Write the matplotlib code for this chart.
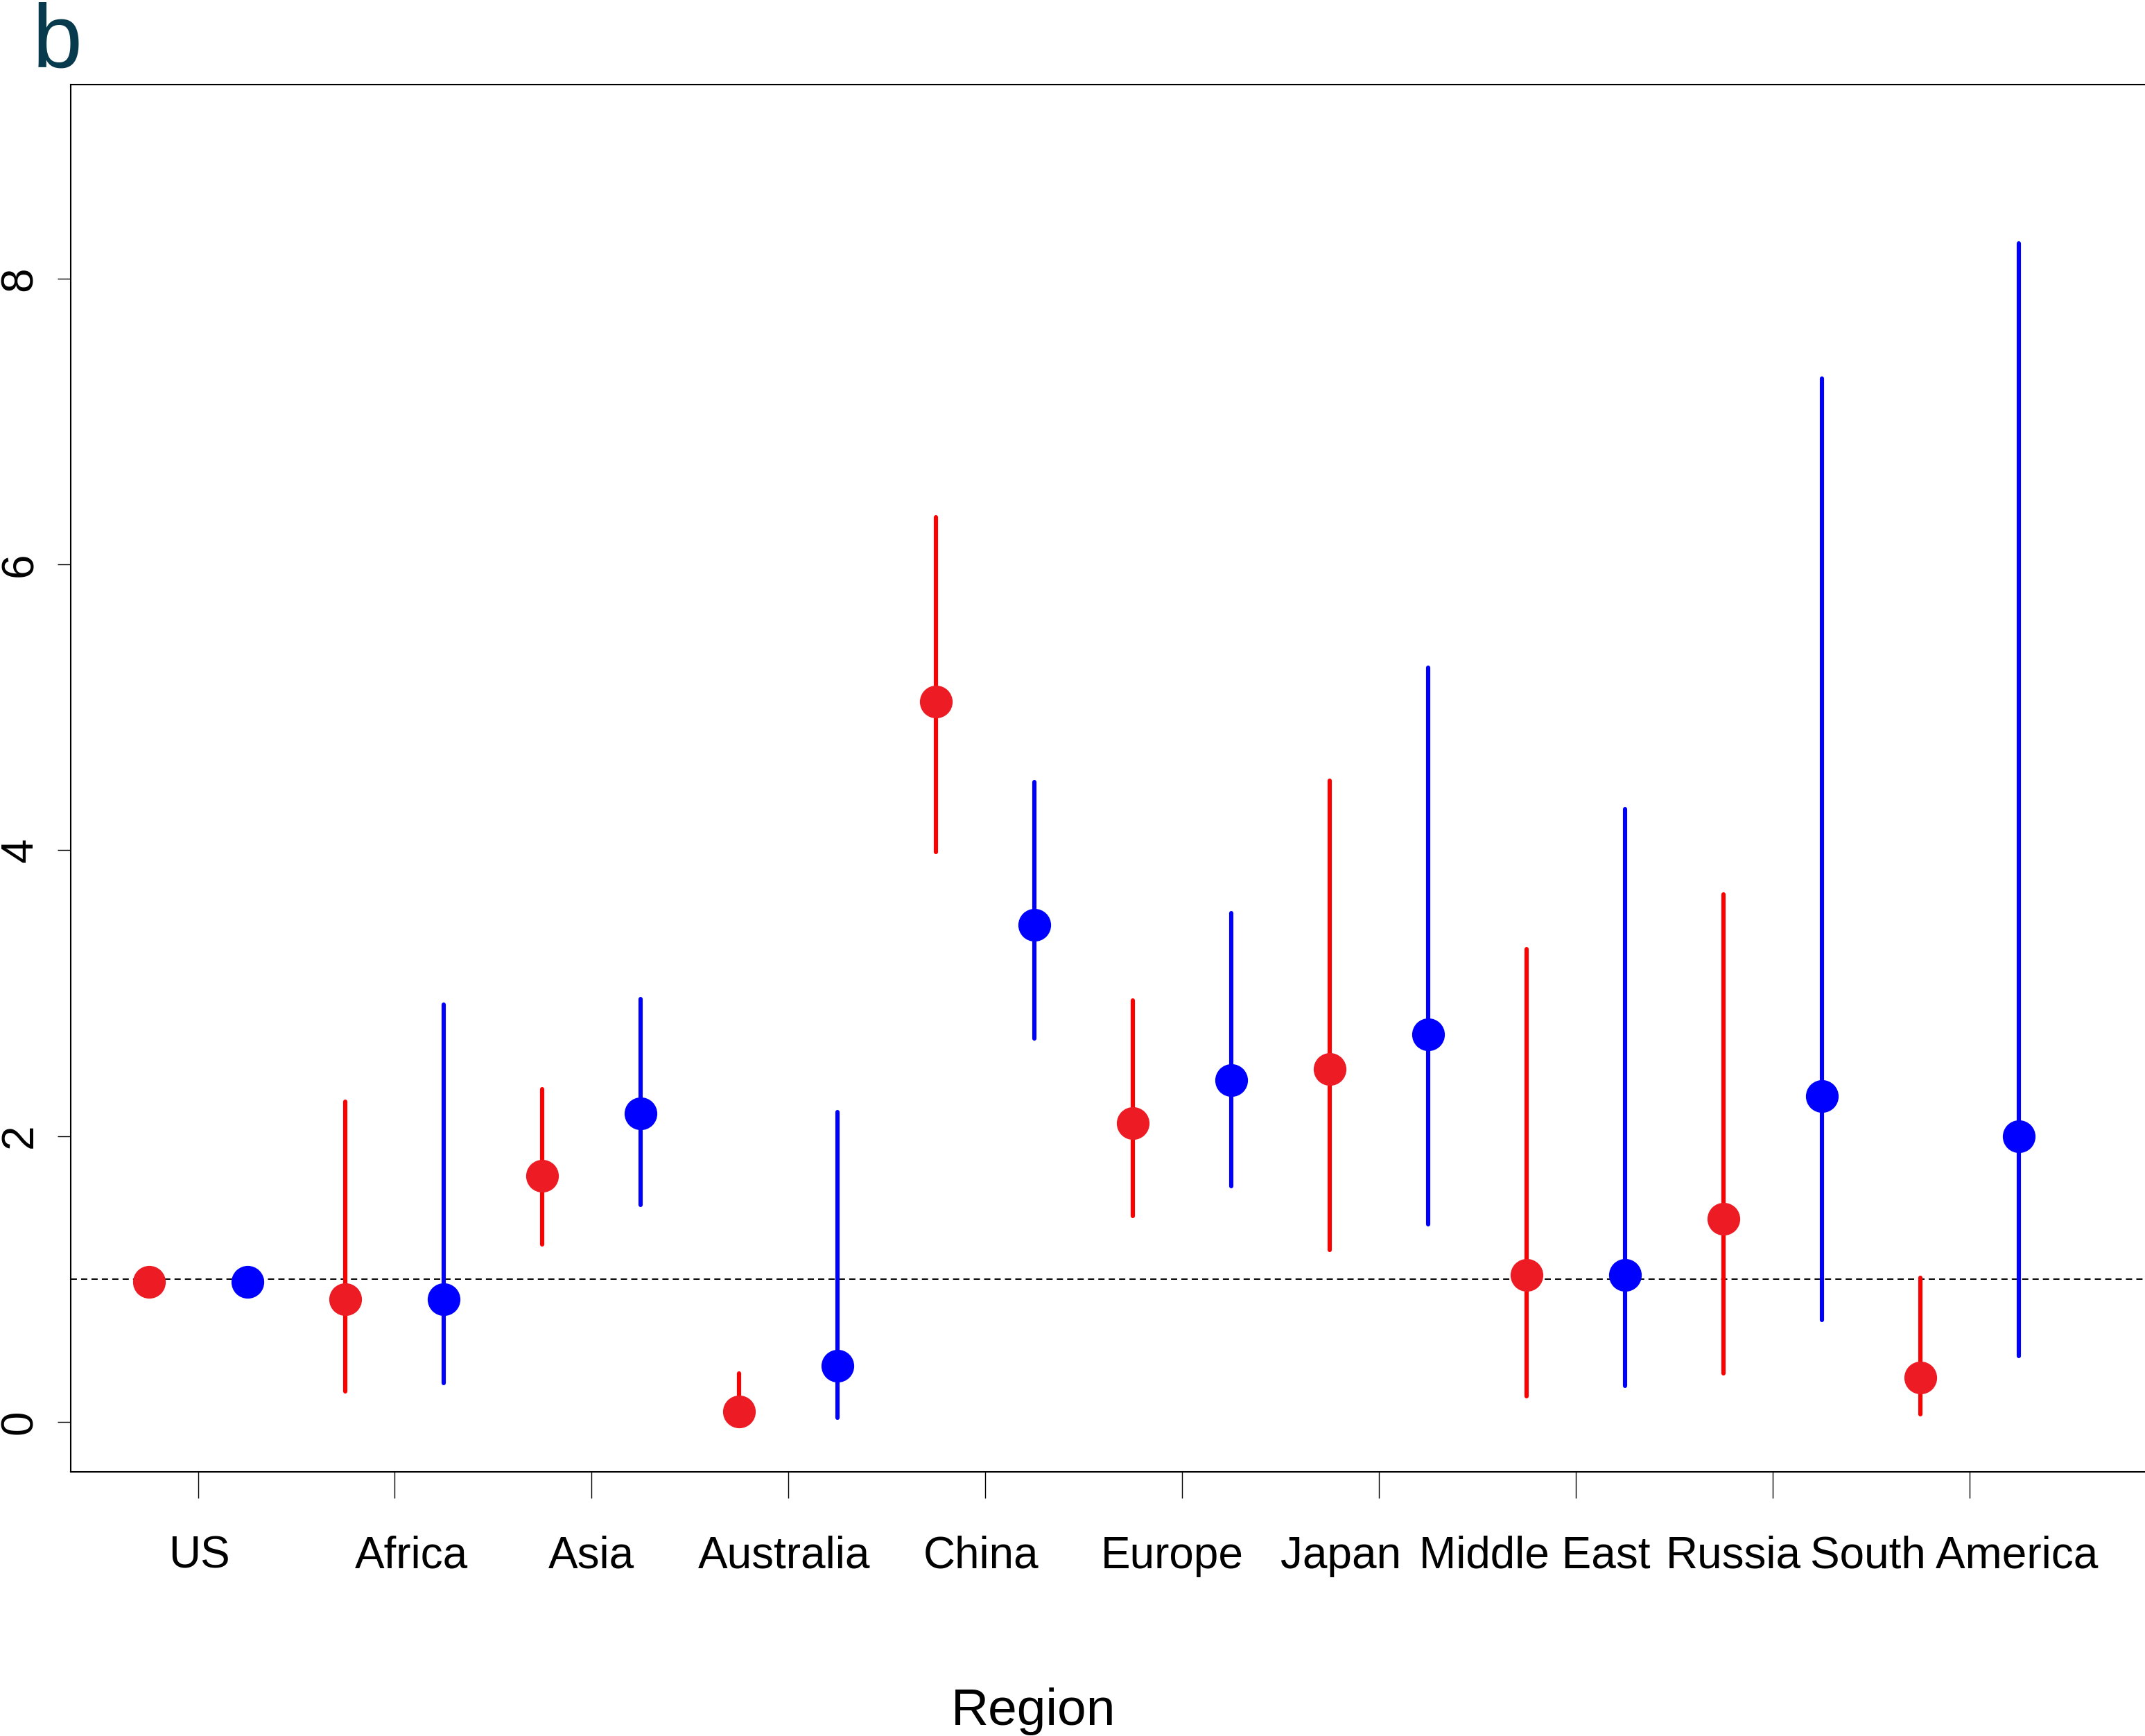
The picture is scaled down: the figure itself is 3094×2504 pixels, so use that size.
import numpy as np
import matplotlib
matplotlib.use("Agg")
import matplotlib.pyplot as plt
import matplotlib.transforms as mtransforms

regions = ["US", "Africa", "Asia", "Australia", "China", "Europe", "Japan",
           "Middle East", "Russia", "South America"]

# red series: estimate with lower / upper interval
red_est = [0.98, 0.86, 1.72, 0.07, 5.04, 2.09, 2.47, 1.03, 1.42, 0.31]
red_lo = [np.nan, 0.21, 1.24, 0.02, 3.99, 1.44, 1.20, 0.18, 0.34, 0.05]
red_hi = [np.nan, 2.24, 2.33, 0.34, 6.33, 2.95, 4.49, 3.31, 3.69, 1.01]

# blue series
blue_est = [0.98, 0.86, 2.16, 0.39, 3.48, 2.39, 2.71, 1.03, 2.28, 2.00]
blue_lo = [np.nan, 0.27, 1.52, 0.03, 2.68, 1.65, 1.38, 0.25, 0.71, 0.46]
blue_hi = [np.nan, 2.92, 2.96, 2.17, 4.48, 3.56, 5.28, 4.29, 7.30, 8.25]

yticks = [0, 2, 4, 6, 8]

# horizontal nudge of each region label (pixels), as in the original layout
label_dx = [2, 24, 0, -6, -6, -14, -55, -59, -57, -22]

font = "Liberation Sans"

fig = plt.figure(figsize=(30.94, 25.04), dpi=100)
ax = fig.add_axes([0.033, 0.1522, 0.977, 0.7991])

x = np.arange(1, len(regions) + 1)
xr = x - 0.25
xb = x + 0.25

ok = ~np.isnan(red_lo)
lc = ax.vlines(xr[ok], np.array(red_lo)[ok], np.array(red_hi)[ok], color="#FF0000", lw=4.4)
lc.set_capstyle("round")
ok = ~np.isnan(blue_lo)
lc = ax.vlines(xb[ok], np.array(blue_lo)[ok], np.array(blue_hi)[ok], color="#0000FF", lw=4.4)
lc.set_capstyle("round")

ax.axhline(1, color="black", lw=1.4, ls=(0, (4.6, 3.1)), zorder=1)

ax.plot(xr, red_est, "o", color="#ED1C24", ms=34, mec="none", zorder=3)
ax.plot(xb, blue_est, "o", color="#0000FF", ms=34, mec="none", zorder=3)

ax.set_xlim(0.354, 11.0)
ax.set_ylim(-0.35, 9.36)

for s in ["left", "top", "bottom"]:
    ax.spines[s].set_linewidth(1.5)
    ax.spines[s].set_color("black")
ax.spines["right"].set_visible(False)

ax.set_xticks(x)
ax.set_xticklabels(regions, fontfamily=font, fontsize=46)
ax.set_yticks(yticks)
ax.set_yticklabels([str(v) for v in yticks], fontfamily=font, fontsize=46,
                   rotation=90, va="center")
ax.tick_params(axis="x", direction="out", length=27, width=1, pad=39)
ax.tick_params(axis="y", direction="out", length=14, width=1, pad=17)

for lbl, dx in zip(ax.get_xticklabels(), label_dx):
    lbl.set_transform(lbl.get_transform() +
                      mtransforms.ScaledTranslation(dx / 100, 0, fig.dpi_scale_trans))

fig.text(1491 / 3094, 1 - 2488 / 2504, "Region", fontfamily=font, fontsize=54,
         ha="center", va="baseline")
fig.text(47 / 3094, 1 - 97 / 2504, "b", fontfamily=font, fontsize=93,
         color="#073A4C", ha="left", va="baseline")

fig.savefig("out.png", dpi=100)
